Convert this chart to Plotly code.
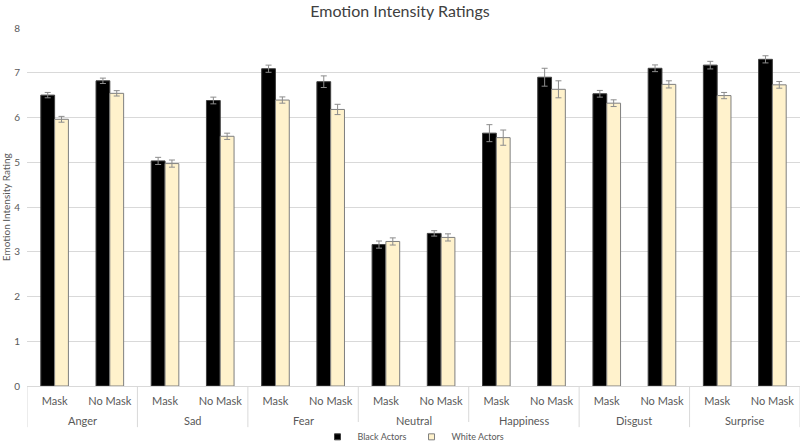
import plotly.graph_objects as go

emotions = ["Anger", "Sad", "Fear", "Neutral", "Happiness", "Disgust", "Surprise"]
conditions = ["Mask", "No Mask"]

black_vals = [6.50, 6.82, 5.03, 6.38, 7.09, 6.80, 3.16, 3.41, 5.65, 6.90, 6.53, 7.10, 7.17, 7.30]
black_err = [0.06, 0.06, 0.08, 0.075, 0.08, 0.13, 0.08, 0.06, 0.19, 0.20, 0.075, 0.075, 0.085, 0.08]
white_vals = [5.96, 6.54, 4.97, 5.58, 6.39, 6.18, 3.23, 3.32, 5.55, 6.63, 6.32, 6.74, 6.49, 6.73]
white_err = [0.065, 0.06, 0.08, 0.07, 0.07, 0.115, 0.08, 0.08, 0.17, 0.19, 0.075, 0.08, 0.07, 0.075]

y_ticks = [0, 1, 2, 3, 4, 5, 6, 7, 8]

# unique category keys, displayed as condition names
cat_keys = [f"{e} | {c}" for e in emotions for c in conditions]
cat_text = [c for _ in emotions for c in conditions]

FONT = "Lato"
TXT = "#595959"
GRID = "#d9d9d9"
BLACK_FILL, BLACK_LINE = "#000000", "#404040"
WHITE_FILL, WHITE_LINE = "#FFF2CC", "#7f7f7f"

fig = go.Figure()
fig.add_trace(go.Bar(
    name="Black Actors", x=cat_keys, y=black_vals, showlegend=False,
    marker=dict(color=BLACK_FILL, line=dict(color=BLACK_LINE, width=1)),
    error_y=dict(type="data", array=black_err, color="#8c8c8c", thickness=1, width=3),
))
fig.add_trace(go.Bar(
    name="White Actors", x=cat_keys, y=white_vals, showlegend=False,
    marker=dict(color=WHITE_FILL, line=dict(color=WHITE_LINE, width=1)),
    error_y=dict(type="data", array=white_err, color="#8c8c8c", thickness=1, width=3),
))
# legend entries with small square symbols
for name, fill, line in [("Black Actors", BLACK_FILL, BLACK_LINE), ("White Actors", WHITE_FILL, WHITE_LINE)]:
    fig.add_trace(go.Scatter(
        name=name, x=[None], y=[None], mode="markers", showlegend=True, hoverinfo="skip",
        marker=dict(symbol="square", size=6, color=fill, line=dict(color=line, width=1)),
    ))

n = len(conditions)
annotations = [dict(text=e, xref="x", yref="paper", x=i * n + (n - 1) / 2, y=0, yshift=-34,
                    xanchor="center", yanchor="middle", showarrow=False,
                    font=dict(size=11, color=TXT))
               for i, e in enumerate(emotions)]
annotations.append(dict(text="Emotion Intensity Rating", xref="paper", yref="paper",
                        x=-0.027, y=0.5, xanchor="center", yanchor="middle", textangle=-90,
                        showarrow=False, font=dict(size=10, color=TXT)))

shapes = [dict(type="line", xref="x", yref="paper", x0=i * n - 0.5, x1=i * n - 0.5,
               y0=0, y1=-0.115, line=dict(color=GRID, width=1))
          for i in range(len(emotions) + 1)]

fig.update_layout(
    width=800, height=442,
    margin=dict(l=27, r=0, t=28, b=56, autoexpand=False),
    paper_bgcolor="white", plot_bgcolor="white",
    font=dict(family=FONT, color=TXT, size=11),
    title=dict(text="Emotion Intensity Ratings", x=0.5, xanchor="center",
               yref="container", y=0.975, yanchor="middle",
               font=dict(family=FONT, size=16, color="#404040")),
    barmode="group", bargap=0.5, bargroupgap=0,
    showlegend=True,
    legend=dict(orientation="h", x=0.5, xanchor="center", y=-0.142, yanchor="middle",
                font=dict(size=9, color=TXT), itemwidth=30, traceorder="normal"),
    xaxis=dict(type="category", categoryorder="array", categoryarray=cat_keys,
               tickvals=cat_keys, ticktext=cat_text, range=[-0.5, len(cat_keys) - 0.5],
               showline=True, linecolor=GRID, linewidth=1, automargin=False,
               tickfont=dict(size=11, color=TXT), ticks="", ticklabelstandoff=5),
    yaxis=dict(range=[0, 8], tickvals=y_ticks, showgrid=True, gridcolor=GRID, gridwidth=1,
               zeroline=False, tickfont=dict(size=10, color=TXT), ticks="", automargin=False,
               ticklabelstandoff=6),
    annotations=annotations,
    shapes=shapes,
)

fig.write_html("out.html", config={"displayModeBar": False},
               post_script="document.body.style.margin='0';")
